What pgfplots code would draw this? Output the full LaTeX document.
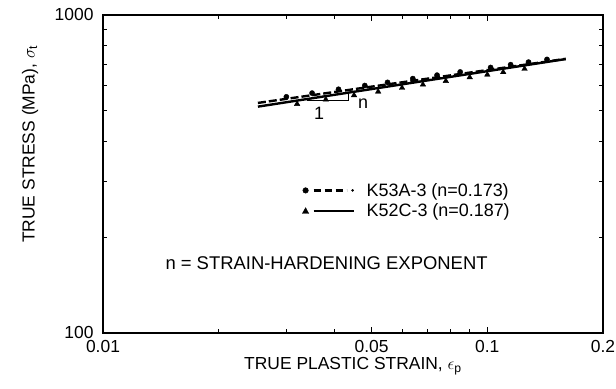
\documentclass[border=0pt]{standalone}
\usepackage{pgfplots}
\pgfplotsset{compat=1.18}
\usepackage{fontspec}
\setmainfont{Liberation Sans}
\begin{document}
\begin{tikzpicture}
\useasboundingbox (0,0) rectangle (616bp,389bp);
\begin{axis}[
  at={(103bp,56bp)}, anchor=south west,
  width=500bp, height=318bp, scale only axis,
  xmode=log, ymode=log,
  xmin=0.01, xmax=0.2, ymin=100, ymax=1000,
  xtick={0.01,0.05,0.1,0.2}, xticklabels={0.01,0.05,0.1,0.2},
  ytick={100,1000}, yticklabels={100,1000},
  minor xtick={0.02,0.03,0.04,0.06,0.07,0.08,0.09},
  minor ytick={200,300,400,500,600,700,800,900},
  tick align=inside, major tick length=6bp, minor tick length=4bp,
  tick style={line width=0.8bp, black},
  axis line style={line width=1.6bp},
  /pgf/number format/assume math mode=true,
  tick label style={font=\fontsize{17.5}{20}\selectfont},
  xticklabel style={yshift=-4bp},
  yticklabel style={xshift=-6bp},
  label style={font=\fontsize{17.5}{20}\selectfont},
  xlabel={TRUE PLASTIC STRAIN, $\epsilon_{\mathrm{p}}$},
  xlabel style={yshift=2bp},
  ylabel={TRUE STRESS (MPa), $\sigma_{\mathrm{t}}$},
  ylabel style={at={(rel axis cs:-0.146,0.594)}, anchor=center},
  legend style={at={(rel axis cs:0.398,0.478)}, anchor=north west, draw=none, fill=none,
    font=\fontsize{18}{21}\selectfont, row sep=2bp, inner sep=0pt,
    /tikz/every odd column/.append style={column sep=10bp}},
  legend cell align=left,
  clip=false,
]
% fitted lines
\addplot[black, line width=2.4bp, forget plot] coordinates {(0.0253,515) (0.16,727)};
\addplot[black, line width=2.4bp, dash pattern=on 8bp off 3bp, forget plot] coordinates {(0.0253,529) (0.16,728)};
% K53A-3 data (dots)
\addplot[only marks, mark=*, mark size=2.6bp, black, forget plot] coordinates {
 (0.030,553) (0.035,568) (0.041,584) (0.048,600) (0.055,614) (0.064,631)
 (0.074,647) (0.085,662) (0.102,684) (0.115,698) (0.128,711) (0.143,725)};
% K52C-3 data (triangles)
\addplot[only marks, mark=triangle*, mark size=3.2bp, black, forget plot] coordinates {
 (0.032,525) (0.038,542) (0.045,559) (0.052,574) (0.060,590) (0.068,604)
 (0.078,620) (0.090,637) (0.100,649) (0.110,661) (0.125,677)};
% slope triangle
\addplot[black, line width=1bp, forget plot] coordinates {(0.034,540) (0.0435,540) (0.0435,570)};
\node[font=\fontsize{18}{21}\selectfont] at (axis cs:0.0365,492) {1};
\node[font=\fontsize{18}{21}\selectfont] at (axis cs:0.0475,527) {n};
\node[anchor=west, font=\fontsize{18.5}{21}\selectfont] at (rel axis cs:0.118,0.22) {n = STRAIN-HARDENING EXPONENT};
% legend
\addlegendimage{legend image code/.code={
  \fill (0bp,0bp) circle (2.8bp);
  \draw[line width=2.2bp, dash pattern=on 7bp off 4bp] (8bp,0bp) -- (41bp,0bp);
  \fill (47bp,0bp) circle (1.1bp);}}
\addlegendentry{K53A-3 (n=0.173)}
\addlegendimage{legend image code/.code={
  \fill (-3.2bp,-2.6bp) -- (3.2bp,-2.6bp) -- (0bp,3.2bp) -- cycle;
  \draw[line width=2.2bp] (8bp,0bp) -- (48bp,0bp);}}
\addlegendentry{K52C-3 (n=0.187)}
\end{axis}
\end{tikzpicture}
\end{document}
